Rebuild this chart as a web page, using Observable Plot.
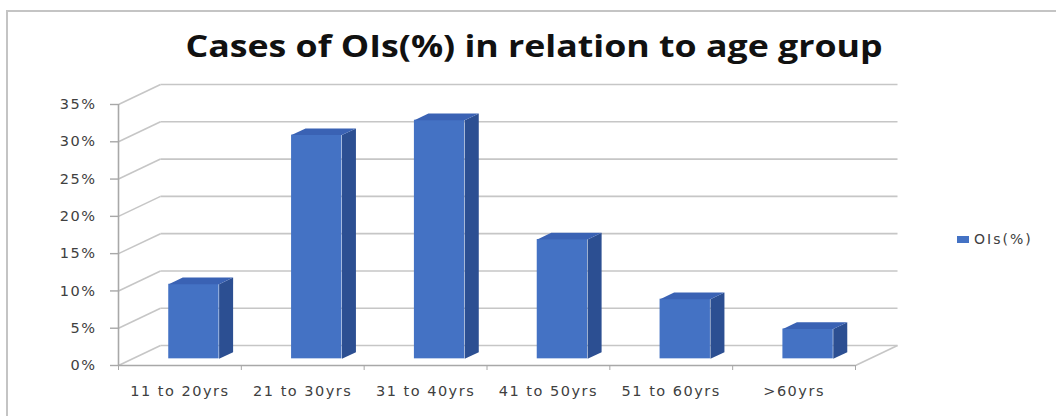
<!DOCTYPE html>
<html>
<head>
<meta charset="utf-8">
<script src="https://cdn.jsdelivr.net/npm/d3@7"></script>
<script src="https://cdn.jsdelivr.net/npm/@observablehq/plot@0.6"></script>
<style>
  html, body { margin: 0; padding: 0; background: #fff; }
  #wrap { position: relative; width: 1056px; height: 416px; overflow: hidden; background: #fff; }
  #border { position: absolute; left: 6px; top: 10px; right: -4px; bottom: -4px;
            border-top: 2px solid #c4c4c4; border-left: 2px solid #c4c4c4; }
  #title { position: absolute; left: 534px; top: 26px; transform: translateX(-50%) scaleX(1.19); white-space: nowrap;
           font-family: "Open Sans", sans-serif; font-weight: 700; font-size: 30px; line-height: 40px; color: #111; }
  #legend { position: absolute; left: 957px; top: 231px; font-family: "DejaVu Sans", sans-serif;
            font-size: 14px; color: #404040; display: flex; align-items: center; letter-spacing: 2px; }
  #legend .sw { width: 12px; height: 7px; background: #4472c4; margin-right: 5px; }
  #chart { position: absolute; left: 0; top: 0; }
</style>
</head>
<body>
<div id="wrap">
  <div id="border"></div>
  <div id="chart"></div>
  <div id="title"></div>
  <div id="legend"><span class="sw"></span><span id="legtext"></span></div>
</div>
<script>
const titleText = "Cases of OIs(%) in relation to age group";
const seriesName = "OIs(%)";
const categories = ["11 to 20yrs", "21 to 30yrs", "31 to 40yrs", "41 to 50yrs", "51 to 60yrs", ">60yrs"];
const values = [10, 30, 32, 16, 8, 4];
const yTicks = [0, 5, 10, 15, 20, 25, 30, 35];

document.getElementById("title").textContent = titleText;
document.getElementById("legtext").textContent = seriesName;

// 3D projection constants (in data units of the linear scales)
const DEPTH_X = 0.342;   // wall depth along x (category units)
const DEPTH_Y = 2.68;    // wall depth along y (percent units)
const BAR_W = 0.41;      // bar front face width (category units)

const data = categories.map((c, i) => ({cat: c, i, v: values[i]}));

const fx = DEPTH_X / 3, fy = DEPTH_Y / 3;
const bx = 2 * DEPTH_X / 3, by = 2 * DEPTH_Y / 3;
const sides = [], tops = [];
for (const d of data) {
  const xl = d.i + 0.5 - BAR_W / 2 + fx, xr = d.i + 0.5 + BAR_W / 2 + fx;
  const y0 = fy, y1 = d.v + fy;
  const dxx = bx - fx, dyy = by - fy;
  sides.push(
    {id: d.i, x: xr, y: y0}, {id: d.i, x: xr + dxx, y: y0 + dyy},
    {id: d.i, x: xr + dxx, y: y1 + dyy}, {id: d.i, x: xr, y: y1}
  );
  tops.push(
    {id: d.i, x: xl, y: y1}, {id: d.i, x: xr, y: y1},
    {id: d.i, x: xr + dxx, y: y1 + dyy}, {id: d.i, x: xl + dxx, y: y1 + dyy}
  );
}

const grid = "#c6c6c6";
const axisCol = "#a8a8a8";
const n = categories.length;

const chart = Plot.plot({
  width: 1056,
  height: 416,
  marginLeft: 118,
  marginRight: 201,
  marginTop: 104,
  marginBottom: 51,
  style: {background: "transparent", fontFamily: "DejaVu Sans, sans-serif"},
  x: {type: "linear", domain: [0, n], axis: null},
  y: {domain: [0, 35], axis: null},
  marks: [
    Plot.link(yTicks, {x1: DEPTH_X, x2: n + DEPTH_X, y1: d => d + DEPTH_Y, y2: d => d + DEPTH_Y, stroke: grid, strokeWidth: 1.6}),
    Plot.link(yTicks, {x1: 0, x2: DEPTH_X, y1: d => d, y2: d => d + DEPTH_Y, stroke: grid, strokeWidth: 1.6}),
    Plot.link([0], {x1: n, x2: n + DEPTH_X, y1: 0, y2: DEPTH_Y, stroke: grid, strokeWidth: 1.6}),
    Plot.ruleY([0], {stroke: axisCol, strokeWidth: 1.6}),
    Plot.ruleX([0], {stroke: axisCol, strokeWidth: 1.6}),
    Plot.rect(data, {x1: d => d.i + 0.5 - BAR_W / 2 + fx, x2: d => d.i + 0.5 + BAR_W / 2 + fx, y1: fy, y2: d => d.v + fy, fill: "#4472c4"}),
    Plot.line(sides, {x: "x", y: "y", z: "id", fill: "#2c4f92", stroke: "none", curve: "linear-closed"}),
    Plot.line(tops, {x: "x", y: "y", z: "id", fill: "#3a62b4", stroke: "none", curve: "linear-closed"}),
    Plot.axisY({ticks: yTicks, tickFormat: d => d + "%", tickSize: 8, tickPadding: 14, fontSize: 14.5, stroke: axisCol, color: "#404040", strokeWidth: 1.4, label: null}),
    Plot.axisX({ticks: d3.range(0, n + 1), tickFormat: () => "", tickSize: 5, stroke: axisCol, label: null}),
    Plot.axisX({ticks: d3.range(0, n).map(i => i + 0.5), tickFormat: d => categories[Math.floor(d)], tickSize: 0, tickPadding: 20, fontSize: 14.5, fill: "#404040", label: null})
  ]
});
chart.querySelectorAll("text").forEach(t => { t.style.letterSpacing = "1.5px"; });
document.getElementById("chart").appendChild(chart);
</script>
</body>
</html>
